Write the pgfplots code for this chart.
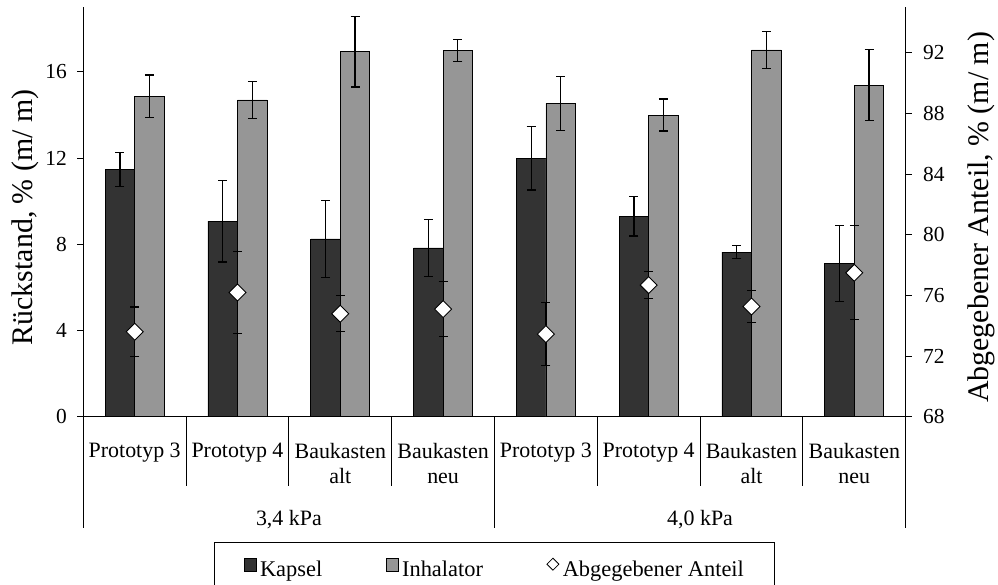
\documentclass[border=0pt]{standalone}
\usepackage{fontspec}
\setmainfont{Liberation Serif}
\usepackage{pgfplots}
\usepackage{pgfplotstable}
\pgfplotsset{compat=1.18}
\definecolor{kap}{RGB}{51,51,51}
\definecolor{inh}{RGB}{150,150,150}
\pgfplotsset{barlegend/.style={legend image code/.code={\draw[##1] (0bp,-2bp) rectangle (12bp,10.5bp);}}}
\pgfplotstableread{
x kap kape inh inhe ant ante
0 11.48 0.78 14.88 0.98 73.60 1.63
1 9.08 1.90 14.70 0.86 76.19 2.70
2 8.25 1.80 16.94 1.64 74.79 1.19
3 7.83 1.31 16.98 0.51 75.09 1.82
4 11.99 1.47 14.54 1.25 73.45 2.06
5 9.30 0.91 14.00 0.74 76.68 0.90
6 7.64 0.31 17.02 0.85 75.27 1.04
7 7.10 1.77 15.39 1.65 77.49 3.10
}\data
\newcommand{\tickfont}{\fontsize{21.5}{25.5}\selectfont}
\newcommand{\catfont}{\fontsize{22}{25.5}\selectfont}
\begin{document}
\begin{tikzpicture}
\useasboundingbox (0bp,0bp) rectangle (998bp,585bp);
\begin{axis}[
  at={(83.3bp,168.3bp)}, anchor=south west,
  scale only axis, width=822.4bp, height=409.4bp,
  xmin=-0.5, xmax=7.5, ymin=0, ymax=19,
  axis x line*=bottom, axis y line*=left,
  axis line style={black, line width=0.9bp, -},
  clip=false,
  ybar, bar width=0.287,
  xtick={0,...,7},
  xticklabels={Prototyp 3, Prototyp 4, {Baukasten\\alt}, {Baukasten\\neu}, Prototyp 3, Prototyp 4, {Baukasten\\alt}, {Baukasten\\neu}},
  xtick style={draw=none},
  xticklabel style={align=center, font=\catfont, anchor=north, inner sep=0pt, yshift=-20bp},
  ytick={0,4,...,16},
  ytick align=outside, major tick length=6bp,
  ytick style={black, line width=0.9bp},
  yticklabel style={font=\tickfont, xshift=-7bp},
  /pgf/number format/assume math mode=true,
  ylabel={Rückstand, \% (m/ m)},
  every axis y label/.style={at={(axis description cs:-0.0709,0.487)}, rotate=90, anchor=center, font=\fontsize{30}{36}\selectfont},
  legend columns=3,
  legend style={at={(0.1593,-0.3068)}, anchor=north west, draw=black, line width=0.9bp,
    font=\fontsize{22.5}{26}\selectfont, inner xsep=29bp, inner ysep=15bp,
    nodes={inner sep=1.5bp},
    /tikz/every even column/.append style={column sep=62bp}},
]
\addplot[fill=kap, draw=black, line width=0.8bp, bar shift=-0.1435, barlegend,
  error bars/.cd, y dir=both, y explicit,
  error bar style={black, line width=1.2bp},
  error mark options={rotate=90, black, line width=1.2bp, mark size=4.5bp}]
  table[x=x, y=kap, y error=kape] {\data};
\addlegendentry{\hspace{2bp}Kapsel}
\addplot[fill=inh, draw=black, line width=0.8bp, bar shift=0.1435, barlegend,
  error bars/.cd, y dir=both, y explicit,
  error bar style={black, line width=1.2bp},
  error mark options={rotate=90, black, line width=1.2bp, mark size=4.5bp}]
  table[x=x, y=inh, y error=inhe] {\data};
\addlegendentry{\hspace{2bp}Inhalator}
\addlegendimage{legend image code/.code={\draw[black, fill=white, line width=0.8bp] (0bp,5bp) -- (6bp,11bp) -- (12bp,5bp) -- (6bp,-1bp) -- cycle;}}
\addlegendentry{\hspace{2bp}Abgegebener Anteil\hspace{14bp}}
\pgfplotsinvokeforeach{0.5,1.5,2.5,4.5,5.5,6.5}{\draw[black, line width=0.9bp] (axis cs:#1,0) -- ++(0bp,-69.3bp);}
\pgfplotsinvokeforeach{-0.5,3.5,7.5}{\draw[black, line width=0.9bp] (axis cs:#1,0) -- ++(0bp,-111bp);}
\node[font=\catfont, anchor=base, yshift=-108.8bp] at (axis cs:1.5,0) {3,4 kPa};
\node[font=\catfont, anchor=base, yshift=-108.8bp] at (axis cs:5.5,0) {4,0 kPa};
\end{axis}
\begin{axis}[
  at={(83.3bp,168.3bp)}, anchor=south west,
  scale only axis, width=822.4bp, height=409.4bp,
  xmin=-0.5, xmax=7.5, ymin=68, ymax=95,
  axis y line*=right, hide x axis,
  axis line style={black, line width=0.9bp, -},
  clip=false,
  ytick={68,72,...,92},
  ytick align=outside, major tick length=6bp,
  ytick style={black, line width=0.9bp},
  yticklabel style={font=\tickfont, xshift=8bp},
  /pgf/number format/assume math mode=true,
  ylabel={Abgegebener Anteil, \% (m/ m)},
  every axis y label/.style={at={(axis description cs:1.0916,0.487)}, rotate=90, anchor=center, font=\fontsize{30}{36}\selectfont},
]
\addplot[draw=none, forget plot,
  error bars/.cd, y dir=both, y explicit,
  error bar style={draw=black, line width=1.2bp},
  error mark options={rotate=90, draw=black, line width=1.2bp, mark size=4.5bp}]
  table[x=x, y=ant, y error=ante] {\data};
\addplot[only marks, mark=square*, mark size=6bp, mark options={rotate=45, fill=white, draw=black, line width=0.9bp}]
  table[x=x, y=ant] {\data};
\end{axis}
\end{tikzpicture}
\end{document}
